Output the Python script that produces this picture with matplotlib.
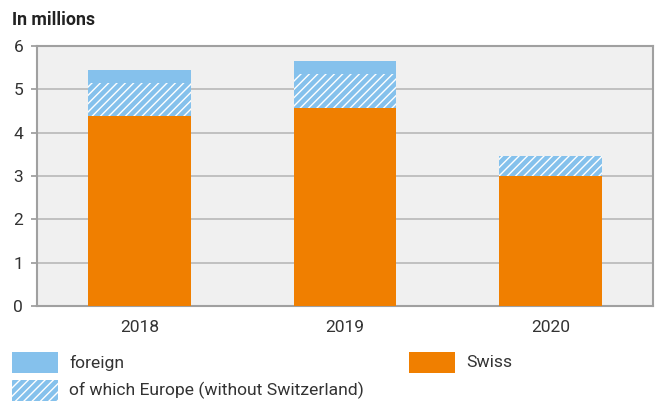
import matplotlib.pyplot as plt
from matplotlib.patches import Rectangle

plt.rcParams['font.family'] = ['Roboto', 'DejaVu Sans']
plt.rcParams['hatch.color'] = 'white'
plt.rcParams['hatch.linewidth'] = 1.0

years = ['2018', '2019', '2020']
swiss = [4.38, 4.57, 2.99]
europe = [0.76, 0.78, 0.47]
other_foreign = [0.30, 0.30, 0.0]

orange = '#f07f00'
blue = '#85c1ec'
grey = '#a0a0a0'

fig = plt.figure(figsize=(6.6, 4.01), dpi=100)
ax = fig.add_axes([0.0561, 0.2369, 0.9333, 0.6484])
ax.set_facecolor('#f0f0f0')

x = range(len(years))
ax.bar(x, swiss, width=0.5, color=orange, zorder=3)
ax.bar(x, europe, width=0.5, bottom=swiss, color=blue, edgecolor='white',
       linewidth=0, hatch='////', zorder=3)
base = [s + e for s, e in zip(swiss, europe)]
ax.bar(x, other_foreign, width=0.5, bottom=base, color=blue, linewidth=0, zorder=3)

ax.set_xlim(-0.5, 2.5)
ax.set_ylim(0, 6)
ax.set_xticks(list(x))
ax.set_xticklabels(years)
ax.set_yticks(range(7))
ax.yaxis.grid(True, color='#bdbdbd', linewidth=1.3, zorder=1)
ax.set_axisbelow(True)
for s in ax.spines.values():
    s.set_color(grey)
    s.set_linewidth(1.5)
ax.tick_params(axis='x', length=0, pad=10, labelsize=12.5, labelcolor='#333333')
ax.tick_params(axis='y', length=4, width=1.3, color=grey, pad=6,
               labelsize=12.5, labelcolor='#333333')

fig.text(12 / 660, 1 - 20 / 401, 'In millions', fontsize=12.8, fontweight='bold',
         color='#222222', va='center', ha='left')

# legend
items = [
    (12, 352, dict(facecolor=blue), 'foreign'),
    (12, 380, dict(facecolor=blue, hatch='////', edgecolor='white'),
     'of which Europe (without Switzerland)'),
    (409, 352, dict(facecolor=orange), 'Swiss'),
]
for px, py, style, label in items:
    r = Rectangle((px / 660, 1 - (py + 21) / 401), 46 / 660, 21 / 401,
                  transform=fig.transFigure, linewidth=0, **style)
    fig.add_artist(r)
    fig.text((px + 57) / 660, 1 - (py + 10.5) / 401, label, fontsize=12.6,
             color='#333333', va='center', ha='left')

fig.savefig('out.png', dpi=100)
